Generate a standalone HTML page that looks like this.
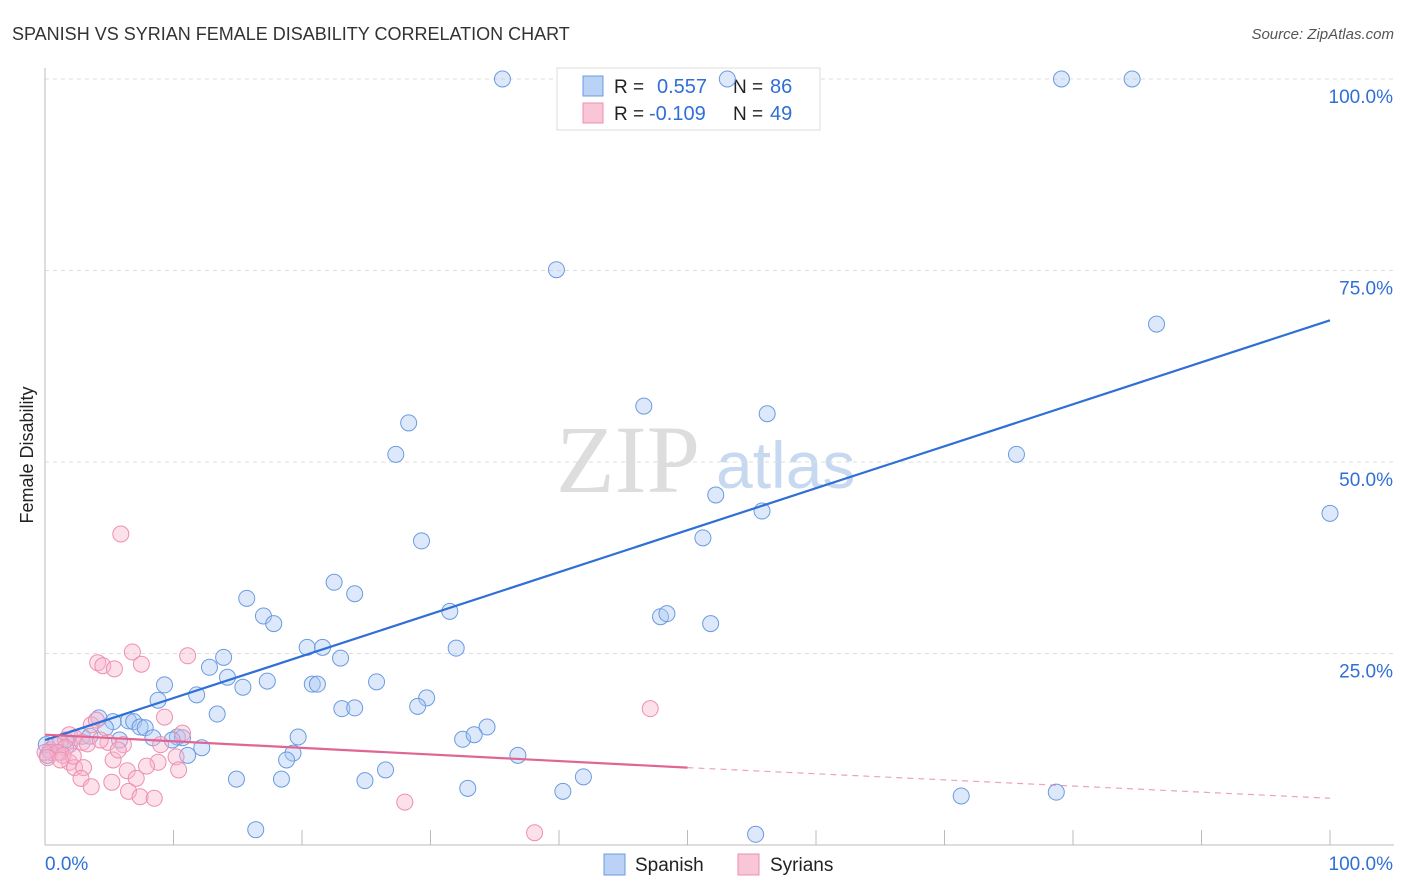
<!DOCTYPE html>
<html><head><meta charset="utf-8"><style>
body{margin:0;background:#fff;font-family:"Liberation Sans",sans-serif;}
#wrap{position:relative;width:1406px;height:892px;overflow:hidden;}
</style></head><body>
<div id="wrap">
<svg id="svg" width="1406" height="892" xmlns="http://www.w3.org/2000/svg">
<text x="12" y="40" font-size="18" fill="#333">SPANISH VS SYRIAN FEMALE DISABILITY CORRELATION CHART</text>
<text x="1394" y="39" font-size="15" fill="#555" font-style="italic" text-anchor="end">Source: ZipAtlas.com</text>
<text x="33" y="455" font-size="18" fill="#222" transform="rotate(-90 33 455)" text-anchor="middle">Female Disability</text>
<text x="556" y="492" font-size="96" fill="#ddd" font-family="Liberation Serif">ZIP</text>
<text x="716" y="488" font-size="66" fill="#c7d9f0">atlas</text>
<g id="grid"></g><g id="axes"></g>
<g>
<rect x="557" y="68" width="263" height="62" fill="#fff" stroke="#ddd"/>
<rect x="583" y="76" width="20" height="20" fill="#b9d2f5" stroke="#6a9be0"/>
<rect x="583" y="103" width="20" height="20" fill="#f8c6d6" stroke="#ee8fb0"/>
<text x="614" y="93" font-size="19" fill="#222">R =</text>
<text x="657" y="93" font-size="20" fill="#2f6fd6">0.557</text>
<text x="733" y="93" font-size="19" fill="#222">N =</text>
<text x="770" y="93" font-size="20" fill="#2f6fd6">86</text>
<text x="614" y="120" font-size="19" fill="#222">R =</text>
<text x="649" y="120" font-size="20" fill="#2f6fd6">-0.109</text>
<text x="733" y="120" font-size="19" fill="#222">N =</text>
<text x="770" y="120" font-size="20" fill="#2f6fd6">49</text>
</g>
<g id="pts"></g><g id="lines"></g>
<g>
<rect x="604" y="854" width="21" height="21" fill="#b9d2f5" stroke="#6a9be0"/>
<text x="635" y="871" font-size="19" fill="#222">Spanish</text>
<rect x="738" y="854" width="21" height="21" fill="#f8c6d6" stroke="#ee8fb0"/>
<text x="770" y="871" font-size="19" fill="#222">Syrians</text>
</g>
</svg></div>
<script>
const spanishX=[35.6,53.1,79.1,84.6,39.8,86.5,46.6,56.2,28.3,27.3,75.6,52.2,55.8,100,51.2,29.3,22.5,15.7,24.1,17.0,17.8,31.5,47.9,48.4,51.8,20.4,21.6,32.0,23.0,13.9,12.8,14.2,9.3,15.4,17.3,20.8,21.2,25.8,11.8,8.8,29.7,29.0,23.1,24.1,13.4,34.4,4.2,6.5,5.3,6.9,7.4,7.8,4.7,2.9,3.5,8.4,10.3,10.7,9.9,19.7,32.5,33.4,12.2,11.1,19.3,18.8,36.8,26.5,41.9,14.9,18.4,24.9,32.9,40.3,71.3,78.7,16.4,55.3,0.4,0.8,1.2,1.9,0.1,5.8,1.6,0.2];
const spanishY=[100,100,100,100,75.1,68.0,57.3,56.3,55.1,51.0,51.0,45.7,43.6,43.3,40.1,39.7,34.3,32.2,32.8,29.9,28.9,30.5,29.8,30.2,28.9,25.8,25.8,25.7,24.4,24.5,23.2,21.9,20.9,20.6,21.4,21.0,21.0,21.3,19.6,18.9,19.2,18.1,17.8,17.9,17.1,15.4,16.6,16.2,16.1,16.1,15.4,15.3,15.3,14.2,14.2,14.0,14.1,14.0,13.7,14.1,13.8,14.4,12.7,11.7,12.0,11.1,11.7,9.8,8.9,8.6,8.6,8.4,7.4,7.0,6.4,6.9,2.0,1.4,12.4,13.1,12.1,13.1,13.1,13.7,13.7,11.7];
const syrianX=[5.9,6.8,11.1,4.1,4.5,5.4,7.5,47.1,9.3,3.6,4.0,10.7,1.9,2.3,1.2,0.8,1.6,2.9,4.9,6.1,9.0,5.3,10.2,8.8,7.9,1.9,2.3,3.0,6.4,2.8,5.2,7.1,3.6,6.5,7.4,8.5,10.4,28.0,38.1,0.4,0,1.0,3.3,4.3,5.7,1.4,2.2,0.2,1.2];
const syrianY=[40.6,25.2,24.7,23.8,23.4,23.0,23.6,17.8,16.7,15.7,16.3,14.6,14.4,14.0,13.4,13.1,12.7,13.4,13.4,13.1,13.1,11.1,11.5,10.8,10.3,10.8,10.1,10.1,9.7,8.7,8.2,8.7,7.6,7.0,6.3,6.1,9.8,5.6,1.6,12.1,12.1,12.1,13.2,13.7,12.4,11.7,11.6,11.4,11.1];
const spanishTrend=[13.7,68.5];
const syrianTrend=[14.4,10.1,6.1];
const yTicks=[25,50,75,100];
const xTickVals=[0,10,20,30,40,50,60,70,80,90,100];
const NS="http://www.w3.org/2000/svg";
const sx=v=>45+v*12.85, sy=v=>845-v*7.66;
function mk(tag,attrs,parent){const e=document.createElementNS(NS,tag);for(const k in attrs)e.setAttribute(k,attrs[k]);document.getElementById(parent).appendChild(e);return e;}
yTicks.forEach(t=>{
 const l=mk('line',{x1:45,x2:1394,y1:sy(t),y2:sy(t),stroke:'#ddd','stroke-dasharray':'4,4'},'grid');
 
 
 const tx=mk('text',{x:1393,y:sy(t)+24,'font-size':19,fill:'#2f6fd6','text-anchor':'end'},'grid');
 tx.textContent=t.toFixed(1)+'%';
 
 
});
mk('line',{x1:45,x2:45,y1:68,y2:845,stroke:'#bbb'},'axes');
mk('line',{x1:45,x2:1394,y1:845,y2:845,stroke:'#bbb'},'axes');
xTickVals.forEach(t=>{
 const l=mk('line',{x1:sx(t),x2:sx(t),y1:830,y2:845,stroke:'#bbb'},'axes');
 
 
});
const x0=mk('text',{x:45,y:870,'font-size':19,fill:'#2f6fd6'},'axes');x0.textContent='0.0%';


const x1=mk('text',{x:1393,y:870,'font-size':19,fill:'#2f6fd6','text-anchor':'end'},'axes');x1.textContent='100.0%';


spanishX.forEach((v,i)=>{
 const c=mk('circle',{cx:sx(v),cy:sy(spanishY[i]),r:8,fill:'rgba(170,200,245,0.4)',stroke:'#6a9be0','stroke-width':1},'pts');
 
 
});
syrianX.forEach((v,i)=>{
 const c=mk('circle',{cx:sx(v),cy:sy(syrianY[i]),r:8,fill:'rgba(248,180,205,0.4)',stroke:'#ee8fb0','stroke-width':1},'pts');
 
 
});
const bl=mk('line',{x1:sx(0),y1:sy(spanishTrend[0]),x2:sx(100),y2:sy(spanishTrend[1]),stroke:'#2f6fd6','stroke-width':2.2},'lines');


const pl=mk('line',{x1:sx(0),y1:sy(syrianTrend[0]),x2:sx(50),y2:sy(syrianTrend[1]),stroke:'#e06594','stroke-width':2.2},'lines');


const pd=mk('line',{x1:sx(50),y1:sy(syrianTrend[1]),x2:sx(100),y2:sy(syrianTrend[2]),stroke:'#e06594','stroke-width':1.2,'stroke-dasharray':'6,5',opacity:0.6},'lines');


</script>
</body></html>
